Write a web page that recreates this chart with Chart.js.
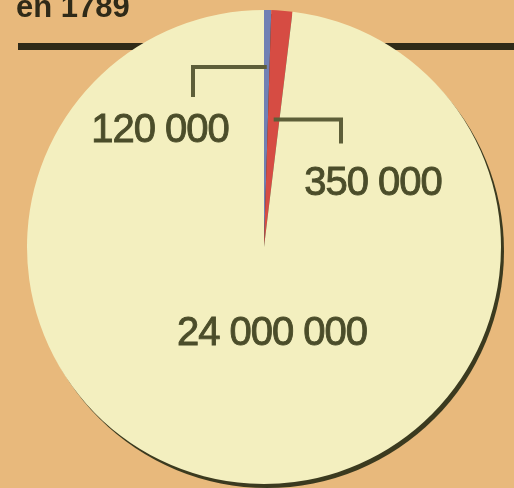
<!DOCTYPE html>
<html>
<head>
<meta charset="utf-8">
<script src="https://cdn.jsdelivr.net/npm/chart.js@4.4.1/dist/chart.umd.min.js"></script>
<style>
  html, body { margin:0; padding:0; background:#e8b97c; }
  #wrap { width:514px; height:488px; position:relative; }
</style>
</head>
<body>
<div id="wrap"><canvas id="pie" width="514" height="488"></canvas></div>
<script>
// données (population de la France en 1789)
const categories = ['Clergé', 'Noblesse', 'Tiers état']
const values = [120000, 350000, 24000000]
const labelsTxt = ['120 000', '350 000', '24 000 000']
const colors = ['#7080b4', '#d64c43', '#f3efbf']

const title = 'en 1789'
const ink = '#4b4d2a'

// décor: fond, titre, filet noir
const decor = {
  id: 'decor',
  beforeDraw(chart) {
    const c = chart.ctx
    c.save()
    c.fillStyle = '#e8b97c'
    c.fillRect(0, 0, chart.width, chart.height)
    c.fillStyle = '#2f2a18'
    c.font = 'bold 31px "Liberation Sans"'
    c.textBaseline = 'alphabetic'
    c.fillText(title, 16, 17)
    c.fillRect(18, 43, 496, 7)
    c.restore()
  },
  beforeDatasetsDraw(chart) {
    const arc = chart.getDatasetMeta(0).data[0]
    if (!arc) return
    const c = chart.ctx
    c.save()
    c.fillStyle = '#3b3a1f'
    c.beginPath()
    c.arc(arc.x + 3, arc.y + 4, arc.outerRadius, 0, Math.PI * 2)
    c.fill()
    c.restore()
  }
}

// étiquettes + crochets
const labelPos = [
  { dx: -104, dy: -116, lx: -71 },
  { dx: 109, dy: -63, lx: 77 },
  { dx: 8, dy: 87 }
]
const labeler = {
  id: 'labeler',
  afterDatasetsDraw(chart) {
    const meta = chart.getDatasetMeta(0)
    const c = chart.ctx
    c.save()
    c.strokeStyle = '#5d5e38'
    c.lineWidth = 4
    meta.data.forEach((a, i) => {
      const p = labelPos[i]
      const mid = (a.startAngle + a.endAngle) / 2
      if (p.lx !== undefined) {
        const fr = i === 0 ? 0.76 : 0.54
        const sx = a.x + Math.cos(mid) * a.outerRadius * fr
        const sy = a.y + Math.sin(mid) * a.outerRadius * fr
        const ex = a.x + p.lx
        c.beginPath()
        c.moveTo(sx, sy)
        c.lineTo(ex, sy)
        c.lineTo(ex, sy + (i === 0 ? 30 : 24))
        c.stroke()
      }
    })
    c.fillStyle = ink
    c.strokeStyle = ink
    c.lineWidth = 0.9
    c.font = '40px "Liberation Sans"'
    c.textAlign = 'center'
    c.textBaseline = 'middle'
    c.letterSpacing = '-1px'
    meta.data.forEach((a, i) => {
      const p = labelPos[i]
      c.fillText(labelsTxt[i], a.x + p.dx, a.y + p.dy)
      c.strokeText(labelsTxt[i], a.x + p.dx, a.y + p.dy)
    })
    c.restore()
  }
}

new Chart(document.getElementById('pie').getContext('2d'), {
  type: 'pie',
  data: {
    labels: categories,
    datasets: [{ data: values, backgroundColor: colors, borderWidth: 0 }]
  },
  options: {
    responsive: false,
    animation: false,
    layout: { padding: { left: 27, right: 13, top: 10, bottom: 4 } },
    plugins: { legend: { display: false }, tooltip: { enabled: false } }
  },
  plugins: [decor, labeler]
})
</script>
</body>
</html>
